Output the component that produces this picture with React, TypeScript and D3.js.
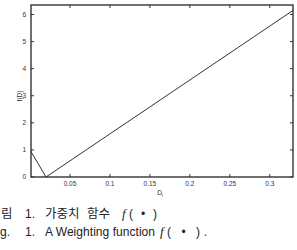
import React from 'react';
import * as d3 from 'd3';

// weighting function samples (D_i, f(D))
const dValues = [0.001, 0.02, 0.329];
const fValues = [0.95, 0, 6.15];
const xTicks = [0.05, 0.1, 0.15, 0.2, 0.25, 0.3];
const yTicks = [0, 1, 2, 3, 4, 5, 6];
const xDomain = [0.00125, 0.329];
const yDomain = [0, 6.35];

const W = 297;
const H = 250;
const m = { left: 31, top: 5, right: 293, bottom: 177 };

export default function App() {
  const x = d3.scaleLinear().domain(xDomain).range([m.left, m.right]);
  const y = d3.scaleLinear().domain(yDomain).range([m.bottom, m.top]);
  const pts = dValues.map((d, i) => [d, fValues[i]] as [number, number]);
  const path = d3.line<[number, number]>().x(p => x(p[0])).y(p => y(p[1]))(pts) || '';
  const tickFont = { fontFamily: 'Liberation Sans, Arial, sans-serif', fontSize: 6.5, fill: '#333' };
  const korFont = { fontFamily: '"Noto Sans CJK KR", sans-serif', fontSize: 12.5, fill: '#222' };
  const latFont = { fontFamily: '"Liberation Sans", Arial, sans-serif', fontSize: 12, fill: '#222' };
  const fFont = { fontFamily: 'Liberation Serif, serif', fontStyle: 'italic', fontSize: 13 } as const;

  return (
    <svg width={W} height={H} style={{ position: 'absolute', left: 0, top: 0, background: '#fff' }}>
      <rect x={m.left} y={m.top} width={m.right - m.left} height={m.bottom - m.top}
        fill="none" stroke="#111" strokeWidth={1.2} />
      {xTicks.map(t => (
        <g key={'x' + t}>
          <line x1={x(t)} x2={x(t)} y1={m.bottom} y2={m.bottom - 3} stroke="#333" />
          <line x1={x(t)} x2={x(t)} y1={m.top} y2={m.top + 3} stroke="#333" />
          <text x={x(t)} y={m.bottom + 8.5} textAnchor="middle" {...tickFont}>{t}</text>
        </g>
      ))}
      {yTicks.map(t => (
        <g key={'y' + t}>
          <line x1={m.left} x2={m.left + 3} y1={y(t)} y2={y(t)} stroke="#333" />
          <line x1={m.right} x2={m.right - 3} y1={y(t)} y2={y(t)} stroke="#333" />
          <text x={m.left - 5} y={y(t) + 2.3} textAnchor="end" {...tickFont}>{t}</text>
        </g>
      ))}
      <path d={path} fill="none" stroke="#333" strokeWidth={1} />
      <text transform="translate(22,96) rotate(-90)" textAnchor="middle" {...tickFont}>f(D)</text>
      <text x={160} y={195} textAnchor="middle" {...tickFont}>
        D<tspan fontSize={4.5} dy={2}>i</tspan>
      </text>

      {/* caption */}
      <text x={1} y={218} {...korFont}>림</text>
      <text x={25} y={218} {...latFont}>1.</text>
      <text x={45} y={218} {...korFont} letterSpacing={0}>가중치</text>
      <text x={87} y={218} {...korFont} letterSpacing={0}>함수</text>
      <text x={122} y={218} {...latFont}>
        <tspan {...fFont}>f</tspan>
      </text>
      <text x={129} y={218} {...latFont} textLength={28}>( • )</text>
      <text x={0} y={236} {...latFont}>g.</text>
      <text x={25} y={236} {...latFont}>1.</text>
      <text x={45} y={236} {...latFont} textLength={110}>A Weighting function</text>
      <text x={160} y={236} {...latFont}>
        <tspan {...fFont}>f</tspan>
      </text>
      <text x={167} y={236} {...latFont} textLength={40}>( • ).</text>
    </svg>
  );
}
